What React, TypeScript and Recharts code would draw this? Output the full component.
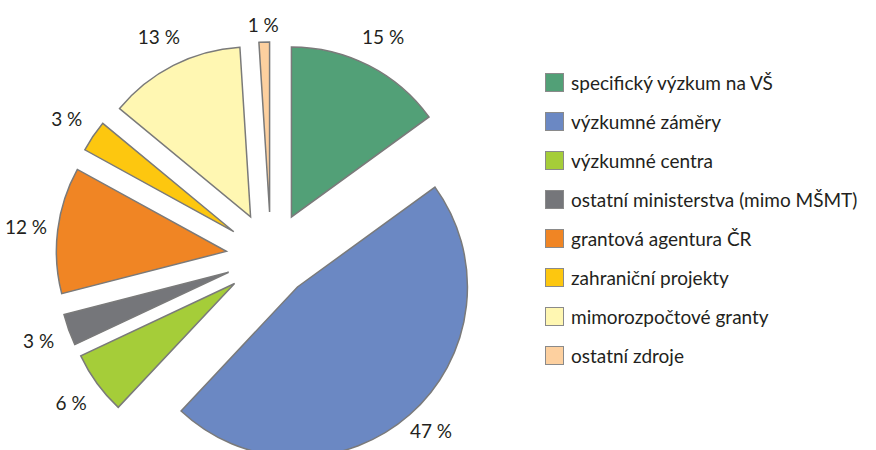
import { PieChart, Pie, Cell, Sector, Legend } from "recharts";

const sources = [
  "specifický výzkum na VŠ",
  "výzkumné záměry",
  "výzkumné centra",
  "ostatní ministerstva (mimo MŠMT)",
  "grantová agentura ČR",
  "zahraniční projekty",
  "mimorozpočtové granty",
  "ostatní zdroje",
];
const shares = [15, 47, 6, 3, 12, 3, 13, 1];
const colors = ["#52a077", "#6b88c3", "#a5cd39", "#75767a", "#f08524", "#fdc70f", "#fff7b2", "#fdd09f"];

const data = sources.map((name, i) => ({ name, value: shares[i] }));

const RAD = Math.PI / 180;
const EXPLODE = 45;
const LABEL_GAP = 32;
const FONT = "Lato, 'Open Sans', sans-serif";
const TEXT = "#231f20";

function shifted(cx: number, cy: number, midAngle: number, r: number) {
  return {
    x: cx + r * Math.cos(-midAngle * RAD),
    y: cy + r * Math.sin(-midAngle * RAD),
  };
}

// big slice sits a bit closer to the centre
function explodeFor(value: number) {
  return value > 40 ? 40 : EXPLODE;
}

function ExplodedSlice(props: any) {
  const { cx, cy, midAngle, innerRadius, outerRadius, startAngle, endAngle, fill, value } = props;
  const c = shifted(cx, cy, midAngle, explodeFor(value));
  return (
    <Sector
      cx={c.x}
      cy={c.y}
      innerRadius={innerRadius}
      outerRadius={outerRadius}
      startAngle={startAngle}
      endAngle={endAngle}
      fill={fill}
      stroke="#7a7a7a"
      strokeWidth={1.5}
    />
  );
}

function renderLabel(props: any) {
  const { cx, cy, midAngle, outerRadius, value } = props;
  const p = shifted(cx, cy, midAngle, explodeFor(value) + outerRadius + LABEL_GAP);
  return (
    <text
      x={p.x}
      y={Math.max(24, Math.min(p.y, 430))}
      textAnchor="middle"
      dominantBaseline="central"
      fill={TEXT}
      fontSize={19}
      fontFamily={FONT}
    >
      {`${value} %`}
    </text>
  );
}

function LegendList() {
  return (
    <div style={{ fontFamily: FONT, fontSize: 19, color: TEXT }}>
      {sources.map((name, i) => (
        <div key={name} style={{ display: "flex", alignItems: "center", height: 39 }}>
          <span
            style={{
              width: 17,
              height: 17,
              background: colors[i],
              border: "1.5px solid #8a8a8a",
              marginRight: 7,
              flexShrink: 0,
            }}
          />
          <span style={{ whiteSpace: "nowrap" }}>{name}</span>
        </div>
      ))}
    </div>
  );
}

export default function App() {
  return (
    <div style={{ position: "absolute", left: 0, top: 0, background: "#fff" }}>
      <PieChart width={876} height={450} margin={{ top: 0, right: 0, bottom: 0, left: 0 }}>
        <Pie
          data={data}
          dataKey="value"
          nameKey="name"
          cx={271}
          cy={257}
          outerRadius={170}
          startAngle={90}
          endAngle={-270}
          isAnimationActive={false}
          label={renderLabel}
          labelLine={false}
          shape={ExplodedSlice}
          activeShape={ExplodedSlice}
          inactiveShape={ExplodedSlice}
        >
          {data.map((d, i) => (
            <Cell key={d.name} fill={colors[i]} />
          ))}
        </Pie>
        <Legend
          layout="vertical"
          content={LegendList}
          wrapperStyle={{ left: 545, top: 63, width: 331 }}
        />
      </PieChart>
    </div>
  );
}
